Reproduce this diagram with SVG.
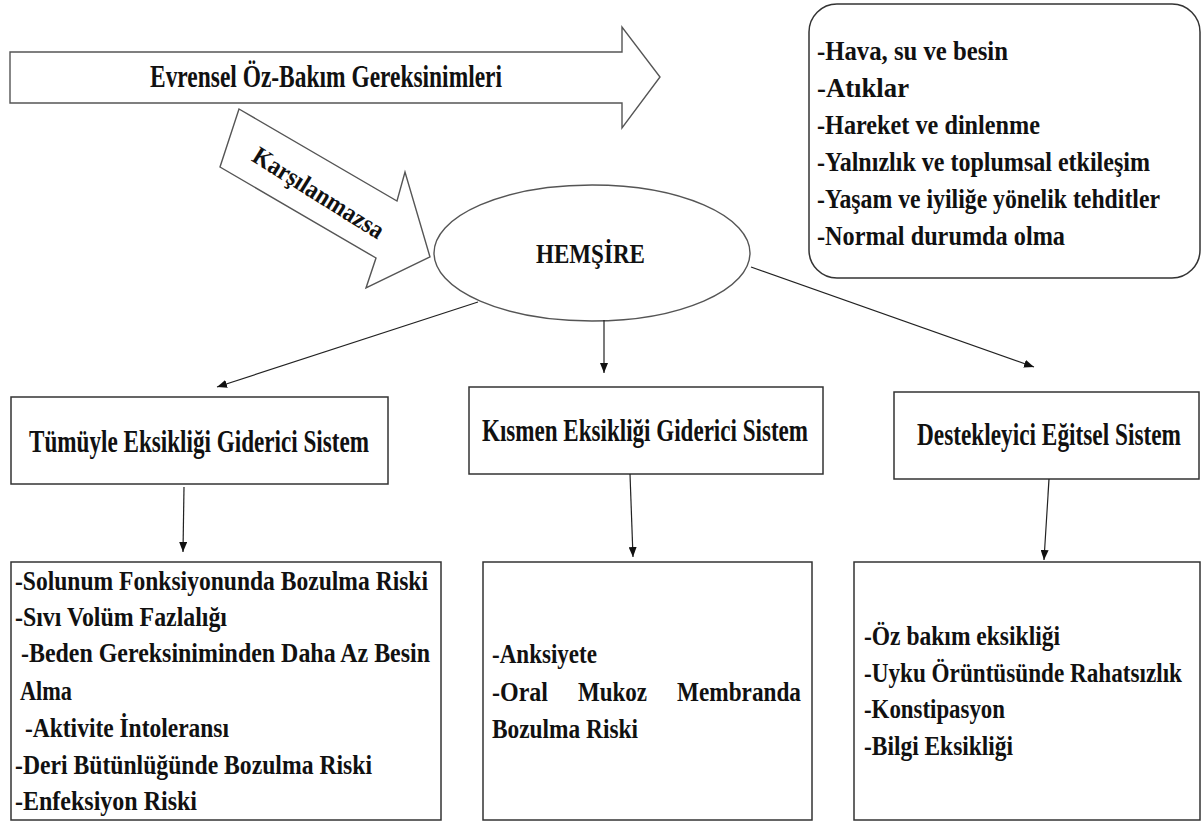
<svg xmlns="http://www.w3.org/2000/svg" width="1203" height="823" viewBox="0 0 1203 823">
<style>
text{font-family:"Liberation Serif","Times New Roman",serif;font-weight:bold;fill:#111;}
.t{font-size:24px;}
.h{font-size:23px;}
.box{fill:#fff;stroke:#333;stroke-width:1.5;}
.shape{fill:#fff;stroke:#555;stroke-width:1.4;}
.conn{fill:none;stroke:#222;stroke-width:1.2;}
</style>
<defs>
<marker id="ah" viewBox="0 0 10 8" refX="10" refY="4" markerWidth="10" markerHeight="8" markerUnits="userSpaceOnUse" orient="auto">
<path d="M0,0 L10,4 L0,8 z" fill="#111"/>
</marker>
</defs>
<rect width="1203" height="823" fill="#fff"/>

<g id="evrensel">
<polygon class="shape" points="10,52 622,52 622,27 660,77 622,128 622,103 10,103"/>
<text class="h" transform="translate(150,87) scale(1,1.33)" textLength="352" lengthAdjust="spacingAndGlyphs">Evrensel Öz-Bakım Gereksinimleri</text>
</g>

<g id="karsilanmazsa">
<polygon class="shape" points="239,109 397,201 405,172 430,257 366,288 376,258 220,167"/>
<text font-size="23" text-anchor="middle" textLength="150" lengthAdjust="spacingAndGlyphs" transform="translate(314,200) rotate(32) scale(1,1.12)">Karşılanmazsa</text>
</g>

<g id="hemsire">
<ellipse class="shape" cx="592" cy="253" rx="158" ry="68"/>
<text class="h" transform="translate(536,263) scale(1,1.2)" textLength="109" lengthAdjust="spacingAndGlyphs">HEMŞİRE</text>
</g>

<g id="gereksinimler">
<rect class="box" x="809" y="4" width="391" height="274" rx="28" ry="28"/>
<text class="t" transform="translate(817,60) scale(1,1.18)" textLength="191" lengthAdjust="spacingAndGlyphs">-Hava, su ve besin</text>
<text class="t" transform="translate(817,97) scale(1,1.18)" textLength="92" lengthAdjust="spacingAndGlyphs">-Atıklar</text>
<text class="t" transform="translate(817,134) scale(1,1.18)" textLength="223" lengthAdjust="spacingAndGlyphs">-Hareket ve dinlenme</text>
<text class="t" transform="translate(817,171) scale(1,1.18)" textLength="333" lengthAdjust="spacingAndGlyphs">-Yalnızlık ve toplumsal etkileşim</text>
<text class="t" transform="translate(817,208) scale(1,1.18)" textLength="343" lengthAdjust="spacingAndGlyphs">-Yaşam ve iyiliğe yönelik tehditler</text>
<text class="t" transform="translate(817,245) scale(1,1.18)" textLength="248" lengthAdjust="spacingAndGlyphs">-Normal durumda olma</text>
</g>

<g id="tumuyle">
<rect class="box" x="11" y="397" width="377" height="87"/>
<text class="h" transform="translate(29,452) scale(1,1.33)" textLength="340" lengthAdjust="spacingAndGlyphs">Tümüyle Eksikliği Giderici Sistem</text>
</g>

<g id="kismen">
<rect class="box" x="469" y="387" width="354" height="87"/>
<text class="h" transform="translate(482,441) scale(1,1.33)" textLength="326" lengthAdjust="spacingAndGlyphs">Kısmen Eksikliği Giderici Sistem</text>
</g>

<g id="destekleyici">
<rect class="box" x="894" y="392" width="305" height="87"/>
<text class="h" transform="translate(917,445) scale(1,1.33)" textLength="264" lengthAdjust="spacingAndGlyphs">Destekleyici Eğitsel Sistem</text>
</g>

<g id="tumuyle-liste">
<rect class="box" x="11" y="562" width="430" height="258"/>
<text class="t" transform="translate(15,590) scale(1,1.18)" textLength="413" lengthAdjust="spacingAndGlyphs">-Solunum Fonksiyonunda Bozulma Riski</text>
<text class="t" transform="translate(15,626) scale(1,1.18)" textLength="212" lengthAdjust="spacingAndGlyphs">-Sıvı Volüm Fazlalığı</text>
<text class="t" transform="translate(21,662) scale(1,1.18)" textLength="409" lengthAdjust="spacingAndGlyphs">-Beden Gereksiniminden Daha Az Besin</text>
<text class="t" transform="translate(20,700) scale(1,1.18)" textLength="52" lengthAdjust="spacingAndGlyphs">Alma</text>
<text class="t" transform="translate(25,737) scale(1,1.18)" textLength="204" lengthAdjust="spacingAndGlyphs">-Aktivite İntoleransı</text>
<text class="t" transform="translate(15,774) scale(1,1.18)" textLength="357" lengthAdjust="spacingAndGlyphs">-Deri Bütünlüğünde Bozulma Riski</text>
<text class="t" transform="translate(15,810) scale(1,1.18)" textLength="182" lengthAdjust="spacingAndGlyphs">-Enfeksiyon Riski</text>
</g>

<g id="kismen-liste">
<rect class="box" x="483" y="562" width="329" height="258"/>
<text class="t" transform="translate(492,663) scale(1,1.18)" textLength="105" lengthAdjust="spacingAndGlyphs">-Anksiyete</text>
<text class="t" transform="translate(492,701) scale(1,1.18)" textLength="56" lengthAdjust="spacingAndGlyphs">-Oral</text>
<text class="t" transform="translate(578,701) scale(1,1.18)" textLength="69" lengthAdjust="spacingAndGlyphs">Mukoz</text>
<text class="t" transform="translate(677,701) scale(1,1.18)" textLength="124" lengthAdjust="spacingAndGlyphs">Membranda</text>
<text class="t" transform="translate(492,738) scale(1,1.18)" textLength="146" lengthAdjust="spacingAndGlyphs">Bozulma Riski</text>
</g>

<g id="destekleyici-liste">
<rect class="box" x="854" y="562" width="346" height="258"/>
<text class="t" transform="translate(864,645) scale(1,1.18)" textLength="196" lengthAdjust="spacingAndGlyphs">-Öz bakım eksikliği</text>
<text class="t" transform="translate(864,682) scale(1,1.18)" textLength="318" lengthAdjust="spacingAndGlyphs">-Uyku Örüntüsünde Rahatsızlık</text>
<text class="t" transform="translate(864,718) scale(1,1.18)" textLength="141" lengthAdjust="spacingAndGlyphs">-Konstipasyon</text>
<text class="t" transform="translate(864,755) scale(1,1.18)" textLength="149" lengthAdjust="spacingAndGlyphs">-Bilgi Eksikliği</text>
</g>

<g id="connectors">
<line class="conn" x1="478" y1="302" x2="217" y2="387" marker-end="url(#ah)"/>
<line class="conn" x1="604" y1="320" x2="604" y2="373" marker-end="url(#ah)"/>
<line class="conn" x1="751" y1="267" x2="1034" y2="367" marker-end="url(#ah)"/>
<line class="conn" x1="184" y1="487" x2="183" y2="552" marker-end="url(#ah)"/>
<line class="conn" x1="630" y1="474" x2="633" y2="557" marker-end="url(#ah)"/>
<line class="conn" x1="1049" y1="479" x2="1044" y2="560" marker-end="url(#ah)"/>
</g>
</svg>
